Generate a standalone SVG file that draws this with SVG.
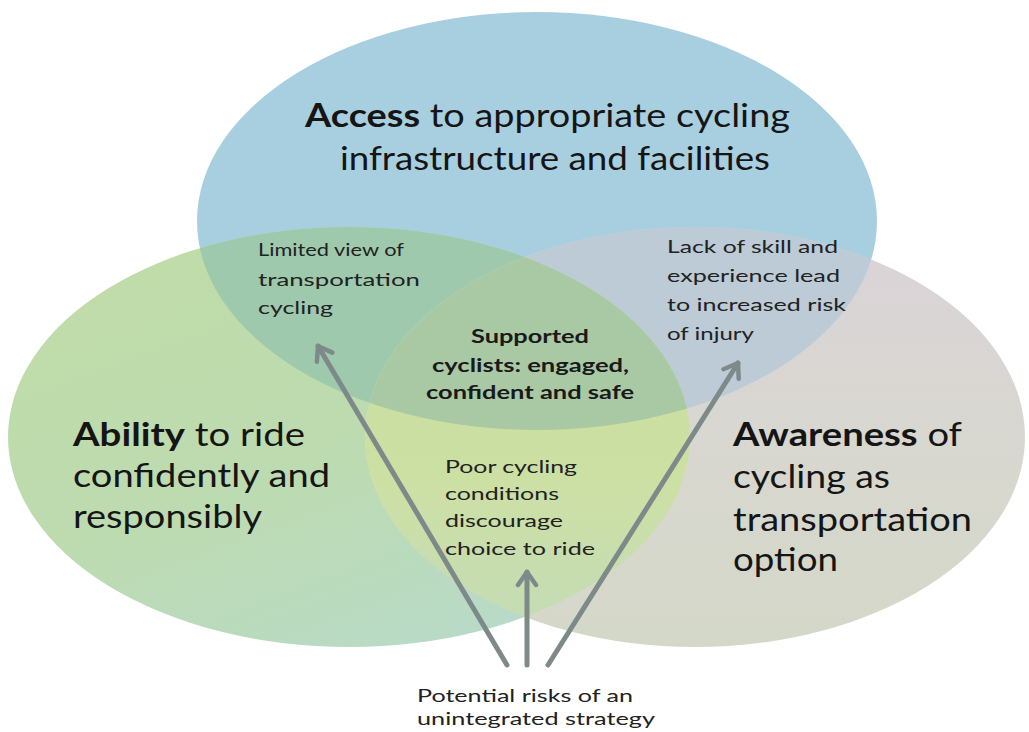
<svg xmlns="http://www.w3.org/2000/svg" width="1029" height="732" viewBox="0 0 1029 732">
  <style>
    .big { font-family: Lato, "Open Sans", "Liberation Sans", sans-serif; font-size: 33px; fill: #151515; }
    .small { font-family: Lato, "Open Sans", "Liberation Sans", sans-serif; font-size: 18px; fill: #222; }
    .mid { font-family: Lato, "Open Sans", "Liberation Sans", sans-serif; font-size: 19px; font-weight: bold; fill: #1a1a1a; }
    .b { font-weight: bold; }
    .arrow { stroke: #7e8a89; stroke-width: 5; fill: none; stroke-linecap: round; }
  </style>
  <defs>
    <ellipse id="eTop" cx="537" cy="221" rx="340" ry="209"/>
    <ellipse id="eLeft" cx="349" cy="437" rx="341" ry="210"/>
    <ellipse id="eRight" cx="695" cy="437" rx="330" ry="210"/>
    <clipPath id="cTop"><use href="#eTop"/></clipPath>
    <clipPath id="cLeft"><use href="#eLeft"/></clipPath>
    <clipPath id="cRight"><use href="#eRight"/></clipPath>
    <linearGradient id="gGreen" x1="0" y1="0" x2="0.6" y2="1">
      <stop offset="0" stop-color="#c0dca6"/>
      <stop offset="0.6" stop-color="#bddbb0"/>
      <stop offset="1" stop-color="#b9dac6"/>
    </linearGradient>
    <linearGradient id="gGray" x1="0" y1="0" x2="0" y2="1">
      <stop offset="0" stop-color="#dad3d8"/>
      <stop offset="0.5" stop-color="#d8d7d0"/>
      <stop offset="1" stop-color="#d4d8c8"/>
    </linearGradient>
    <linearGradient id="gGreenGray" x1="0" y1="0" x2="0" y2="1">
      <stop offset="0" stop-color="#c9dd9e"/>
      <stop offset="0.6" stop-color="#cde0a4"/>
      <stop offset="1" stop-color="#c3dbb8"/>
    </linearGradient>
    <marker id="head" viewBox="-16 -12 20 24" refX="0" refY="0" markerWidth="20" markerHeight="24" markerUnits="userSpaceOnUse" orient="auto">
      <path d="M-13,-9 L0,0 L-13,9" fill="none" stroke="#7e8a89" stroke-width="4.5" stroke-linecap="round" stroke-linejoin="round"/>
    </marker>
  </defs>

  <rect width="1029" height="732" fill="#ffffff"/>

  <!-- base circles -->
  <g id="circle-access">
    <use href="#eTop" fill="#a8cfe0"/>
  </g>
  <g id="circle-ability">
    <use href="#eLeft" fill="url(#gGreen)"/>
  </g>
  <g id="circle-awareness">
    <use href="#eRight" fill="url(#gGray)"/>
  </g>

  <!-- pairwise overlaps -->
  <g id="overlap-access-ability" clip-path="url(#cTop)">
    <use href="#eLeft" fill="#9fc9ad"/>
  </g>
  <g id="overlap-access-awareness" clip-path="url(#cTop)">
    <use href="#eRight" fill="#bccbd6"/>
  </g>
  <g id="overlap-ability-awareness" clip-path="url(#cLeft)">
    <use href="#eRight" fill="url(#gGreenGray)"/>
  </g>
  <!-- centre: all three -->
  <g id="overlap-all" clip-path="url(#cTop)">
    <g clip-path="url(#cLeft)">
      <use href="#eRight" fill="#a9c9a4"/>
    </g>
  </g>

  <!-- labels -->
  <g id="label-access">
    <text class="big" x="305" y="127" textLength="485" lengthAdjust="spacingAndGlyphs"><tspan class="b">Access</tspan> to appropriate cycling</text>
    <text class="big" x="340" y="170" textLength="430" lengthAdjust="spacingAndGlyphs">infrastructure and facilities</text>
  </g>
  <g id="label-ability">
    <text class="big" x="73" y="446" textLength="232" lengthAdjust="spacingAndGlyphs"><tspan class="b">Ability</tspan> to ride</text>
    <text class="big" x="73" y="487" textLength="257" lengthAdjust="spacingAndGlyphs">confidently and</text>
    <text class="big" x="73" y="528" textLength="189" lengthAdjust="spacingAndGlyphs">responsibly</text>
  </g>
  <g id="label-awareness">
    <text class="big" x="733" y="446" textLength="229" lengthAdjust="spacingAndGlyphs"><tspan class="b">Awareness</tspan> of</text>
    <text class="big" x="733" y="488" textLength="157" lengthAdjust="spacingAndGlyphs">cycling as</text>
    <text class="big" x="733" y="531" textLength="239" lengthAdjust="spacingAndGlyphs">transportation</text>
    <text class="big" x="733" y="571" textLength="105" lengthAdjust="spacingAndGlyphs">option</text>
  </g>
  <g id="label-limited-view">
    <text class="small" x="258" y="256" textLength="146" lengthAdjust="spacingAndGlyphs">Limited view of</text>
    <text class="small" x="258" y="286" textLength="162" lengthAdjust="spacingAndGlyphs">transportation</text>
    <text class="small" x="258" y="314" textLength="75" lengthAdjust="spacingAndGlyphs">cycling</text>
  </g>
  <g id="label-lack-of-skill">
    <text class="small" x="667" y="253" textLength="171" lengthAdjust="spacingAndGlyphs">Lack of skill and</text>
    <text class="small" x="667" y="282" textLength="173" lengthAdjust="spacingAndGlyphs">experience lead</text>
    <text class="small" x="667" y="311" textLength="179" lengthAdjust="spacingAndGlyphs">to increased risk</text>
    <text class="small" x="667" y="340" textLength="87" lengthAdjust="spacingAndGlyphs">of injury</text>
  </g>
  <g id="label-supported">
    <text class="mid" x="471" y="343" textLength="118" lengthAdjust="spacingAndGlyphs">Supported</text>
    <text class="mid" x="432" y="372" textLength="197" lengthAdjust="spacingAndGlyphs">cyclists: engaged,</text>
    <text class="mid" x="426" y="399" textLength="208" lengthAdjust="spacingAndGlyphs">confident and safe</text>
  </g>
  <g id="label-poor-conditions">
    <text class="small" x="445" y="473" textLength="132" lengthAdjust="spacingAndGlyphs">Poor cycling</text>
    <text class="small" x="445" y="500" textLength="114" lengthAdjust="spacingAndGlyphs">conditions</text>
    <text class="small" x="445" y="527" textLength="118" lengthAdjust="spacingAndGlyphs">discourage</text>
    <text class="small" x="445" y="555" textLength="150" lengthAdjust="spacingAndGlyphs">choice to ride</text>
  </g>
  <g id="label-risks">
    <text class="small" x="417" y="702" textLength="216" lengthAdjust="spacingAndGlyphs">Potential risks of an</text>
    <text class="small" x="417" y="725" textLength="238" lengthAdjust="spacingAndGlyphs">unintegrated strategy</text>
  </g>

  <!-- connectors -->
  <g id="connectors">
    <line class="arrow" x1="507" y1="665" x2="318" y2="346" marker-end="url(#head)"/>
    <line class="arrow" x1="527" y1="665" x2="527" y2="572" marker-end="url(#head)"/>
    <line class="arrow" x1="548" y1="665" x2="738" y2="363" marker-end="url(#head)"/>
  </g>
</svg>
